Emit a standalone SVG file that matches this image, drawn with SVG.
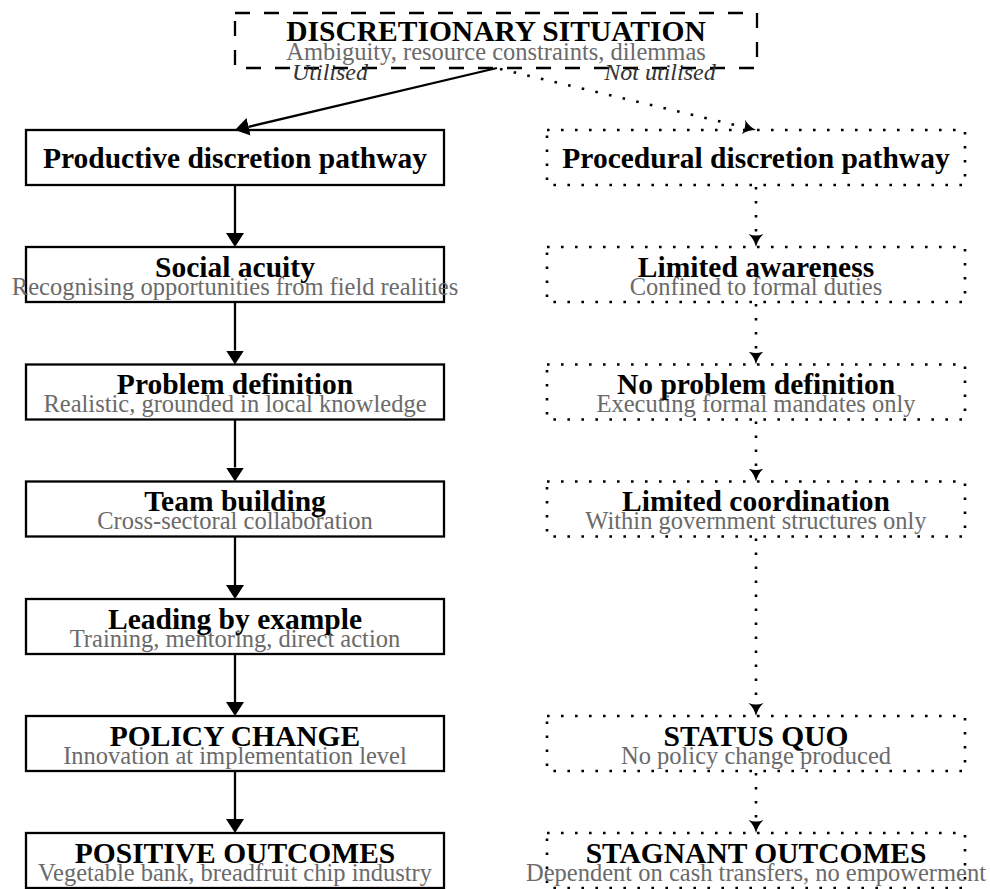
<svg xmlns="http://www.w3.org/2000/svg" width="990" height="889" viewBox="0 0 990 889">
<style>
text{font-family:"Liberation Serif","Times New Roman",serif;text-anchor:middle}
.t{font-weight:bold;font-size:29.5px;fill:#000}
.s{font-size:24.5px;fill:#6a6a6a}
.l{font-style:italic;font-size:24px;fill:#333}
.solid{fill:#fff;stroke:#000;stroke-width:2.3}
.dot{fill:#fff;stroke:#000;stroke-width:2.6;stroke-dasharray:2.6 11.4}
.dash{fill:#fff;stroke:#000;stroke-width:2.3;stroke-dasharray:15 14}
.e{fill:none;stroke:#000;stroke-width:2.3;marker-end:url(#ah)}
.ed{fill:none;stroke:#000;stroke-width:2.6;stroke-dasharray:2.6 11.4;marker-end:url(#ahd)}
</style>
<defs>
<marker id="ah" markerUnits="userSpaceOnUse" viewBox="0 -9 14 18" refX="0" refY="0" markerWidth="14" markerHeight="18" orient="auto"><path d="M0,-9 L14,0 L0,9 Z" fill="#000"/></marker>
<marker id="ahd" markerUnits="userSpaceOnUse" viewBox="0 -8 13 16" refX="0" refY="0" markerWidth="13" markerHeight="16" orient="auto"><path d="M0,-7.5 Q5,-2 13,0 Q5,2 0,7.5 Q3,0 0,-7.5 Z" fill="#000"/></marker>
</defs>
<g id="top">
<rect class="dash" x="235" y="13" width="522" height="55"/>
<text class="t" x="496" y="41">DISCRETIONARY SITUATION</text>
<text class="s" x="496" y="59.5">Ambiguity, resource constraints, dilemmas</text>
</g>
<g id="productive">
<rect class="solid" x="26" y="130" width="418" height="55"/>
<text class="t" x="235" y="168">Productive discretion pathway</text>
</g>
<g id="social">
<rect class="solid" x="26" y="247" width="418" height="55"/>
<text class="t" x="235" y="277">Social acuity</text>
<text class="s" x="235" y="295">Recognising opportunities from field realities</text>
</g>
<g id="problem">
<rect class="solid" x="26" y="364.5" width="418" height="55"/>
<text class="t" x="235" y="394">Problem definition</text>
<text class="s" x="235" y="412">Realistic, grounded in local knowledge</text>
</g>
<g id="team">
<rect class="solid" x="26" y="481.5" width="418" height="55"/>
<text class="t" x="235" y="511">Team building</text>
<text class="s" x="235" y="529">Cross-sectoral collaboration</text>
</g>
<g id="leading">
<rect class="solid" x="26" y="599" width="418" height="55"/>
<text class="t" x="235" y="628.5">Leading by example</text>
<text class="s" x="235" y="646.5">Training, mentoring, direct action</text>
</g>
<g id="policy">
<rect class="solid" x="26" y="716" width="418" height="55"/>
<text class="t" x="235" y="745.5">POLICY CHANGE</text>
<text class="s" x="235" y="763.5">Innovation at implementation level</text>
</g>
<g id="positive">
<rect class="solid" x="26" y="833" width="418" height="55"/>
<text class="t" x="235" y="862.5">POSITIVE OUTCOMES</text>
<text class="s" x="235" y="880.5">Vegetable bank, breadfruit chip industry</text>
</g>
<g id="procedural">
<rect class="dot" x="547" y="130" width="418" height="55"/>
<text class="t" x="756" y="168">Procedural discretion pathway</text>
</g>
<g id="awareness">
<rect class="dot" x="547" y="247" width="418" height="55"/>
<text class="t" x="756" y="277">Limited awareness</text>
<text class="s" x="756" y="295">Confined to formal duties</text>
</g>
<g id="noproblem">
<rect class="dot" x="547" y="364.5" width="418" height="55"/>
<text class="t" x="756" y="394">No problem definition</text>
<text class="s" x="756" y="412">Executing formal mandates only</text>
</g>
<g id="coordination">
<rect class="dot" x="547" y="481.5" width="418" height="55"/>
<text class="t" x="756" y="511">Limited coordination</text>
<text class="s" x="756" y="529">Within government structures only</text>
</g>
<g id="statusquo">
<rect class="dot" x="547" y="716" width="418" height="55"/>
<text class="t" x="756" y="745.5">STATUS QUO</text>
<text class="s" x="756" y="763.5">No policy change produced</text>
</g>
<g id="stagnant">
<rect class="dot" x="547" y="833" width="418" height="55"/>
<text class="t" x="756" y="862.5">STAGNANT OUTCOMES</text>
<text class="s" x="756" y="880.5">Dependent on cash transfers, no empowerment</text>
</g>
<g id="connectors">
<path class="e" d="M497,68 L248.6,126.8"/>
<path class="ed" d="M500,69 L743.4,127"/>
<text class="l" x="330" y="80">Utilised</text>
<text class="l" x="660" y="80">Not utilised</text>
<path class="e" d="M235,185 V233"/>
<path class="e" d="M235,302 V350.5"/>
<path class="e" d="M235,419.5 V467.5"/>
<path class="e" d="M235,536.5 V585"/>
<path class="e" d="M235,654 V702"/>
<path class="e" d="M235,771 V819"/>
<path class="ed" d="M756,187 V234"/>
<path class="ed" d="M756,304 V351.5"/>
<path class="ed" d="M756,421.5 V468.5"/>
<path class="ed" d="M756,538.5 V703"/>
<path class="ed" d="M756,773 V820"/>
</g>
</svg>
